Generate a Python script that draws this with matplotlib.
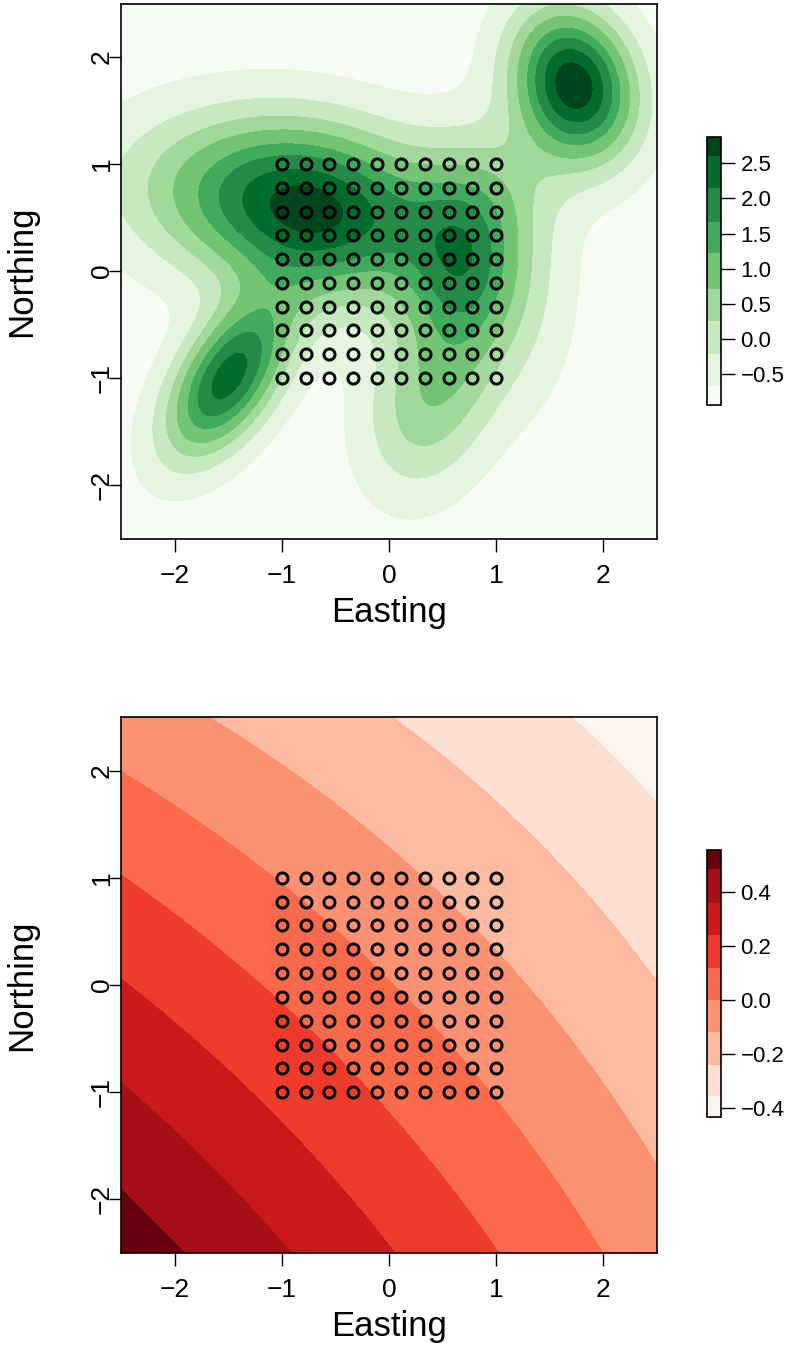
import numpy as np
import matplotlib
matplotlib.use("Agg")
import matplotlib.pyplot as plt

plt.rcParams['font.family'] = ['Liberation Sans', 'DejaVu Sans']

# sample design: 10 x 10 grid on [-1, 1]^2
design_x = np.linspace(-1, 1, 10)
design_y = np.linspace(-1, 1, 10)

# top surface: background level plus bumps
# (centre x, centre y, height, spread along major axis, spread along minor axis, angle in degrees)
green_base = -0.94
bump_cx = [-0.66, 0.72, -1.50, 1.73, -2.30, 0.35, 1.35, 1.20, -1.30]
bump_cy = [0.56, 0.04, -1.00, 1.75, 0.85, -1.25, -0.30, 0.90, 0.70]
bump_amp = [3.12, 2.12, 3.30, 3.80, 0.15, 1.40, 0.35, 0.45, 0.80]
bump_major = [0.88, 0.68, 0.58, 0.50, 0.60, 0.60, 0.80, 0.50, 0.90]
bump_minor = [0.56, 0.38, 0.30, 0.38, 0.50, 0.40, 0.35, 0.40, 0.50]
bump_angle = [-12, 90, 57, 110, 0, 75, 90, 45, -5]
green_levels = [-0.939, -0.669, -0.213, 0.256, 0.711, 1.223, 1.664, 2.148, 2.600, 2.873]
green_ticks = [-0.5, 0.0, 0.5, 1.0, 1.5, 2.0, 2.5]
green_colors = ['#F7FCF5', '#E5F5E0', '#C7E9C0', '#A1D99B', '#74C476',
                '#41AB5D', '#238B45', '#006D2C', '#00441B']

# bottom surface: smooth trend z = c0 + a*(x + y) + c*x*y
red_c0 = 0.0045
red_a = -0.097
red_c = 0.0108
red_levels = [-0.433, -0.357, -0.240, -0.120, 0.000, 0.120, 0.240, 0.360, 0.484, 0.556]
red_ticks = [-0.4, -0.2, 0.0, 0.2, 0.4]
red_colors = ['#FFF5F0', '#FEE0D2', '#FCBBA1', '#FC9272', '#FB6A4A',
              '#EF3B2C', '#CB181D', '#A50F15', '#67000D']

axis_ticks = [-2, -1, 0, 1, 2]

gx, gy = np.meshgrid(np.linspace(-2.5, 2.5, 301), np.linspace(-2.5, 2.5, 301))

z_green = np.full_like(gx, green_base)
for cx, cy, amp, s1, s2, ang in zip(bump_cx, bump_cy, bump_amp, bump_major, bump_minor, bump_angle):
    t = np.deg2rad(ang)
    u = (gx - cx) * np.cos(t) + (gy - cy) * np.sin(t)
    v = -(gx - cx) * np.sin(t) + (gy - cy) * np.cos(t)
    z_green += amp * np.exp(-0.5 * ((u / s1) ** 2 + (v / s2) ** 2))
z_green = np.clip(z_green, green_levels[0], green_levels[-1])

z_red = red_c0 + red_a * (gx + gy) + red_c * gx * gy
z_red = np.clip(z_red, red_levels[0], red_levels[-1])

W, H = 798, 1371
fig = plt.figure(figsize=(W / 100, H / 100), dpi=100)


def px_axes(x0, y0, x1, y1):
    return fig.add_axes([x0 / W, 1 - y1 / H, (x1 - x0) / W, (y1 - y0) / H])


def panel(ax, cax, z, levels, colors, ticks):
    cs = ax.contourf(gx, gy, z, levels=levels, colors=colors)
    dx, dy = np.meshgrid(design_x, design_y)
    ax.plot(dx.ravel(), dy.ravel(), 'o', mfc='none', mec='black', ms=8.0, mew=2.1)
    ax.set_xlim(-2.5, 2.5)
    ax.set_ylim(-2.5, 2.5)
    ax.set_xticks(axis_ticks)
    ax.set_yticks(axis_ticks)
    ax.tick_params(direction='out', length=9, width=1.0, labelsize=19)
    ax.tick_params(axis='x', pad=9)
    ax.tick_params(axis='y', pad=-4)
    plt.setp(ax.get_yticklabels(), rotation=90, va='center')
    for s in ax.spines.values():
        s.set_linewidth(1.2)
    ax.set_xlabel('Easting', fontsize=25, va='center')
    ax.set_ylabel('Northing', fontsize=25, va='center')
    ax.xaxis.set_label_coords(0.5, -(612 - 538.5) / 535)
    ax.yaxis.set_label_coords(-(121 - 22) / 536, 0.5)

    cb = fig.colorbar(cs, cax=cax, spacing='proportional')
    cb.set_ticks(ticks)
    cb.set_ticklabels([f'{t:.1f}'.replace('-', '\u2212') for t in ticks])
    cb.ax.tick_params(direction='out', length=10, width=1.0, labelsize=16, pad=4)
    cb.outline.set_linewidth(1.2)


ax1 = px_axes(121, 3.5, 657, 538.5)
cax1 = px_axes(707, 137, 721, 405)
panel(ax1, cax1, z_green, green_levels, green_colors, green_ticks)

ax2 = px_axes(121, 717, 657, 1253)
cax2 = px_axes(707, 850, 721, 1117)
panel(ax2, cax2, z_red, red_levels, red_colors, red_ticks)

fig.savefig('out.png', dpi=100)
